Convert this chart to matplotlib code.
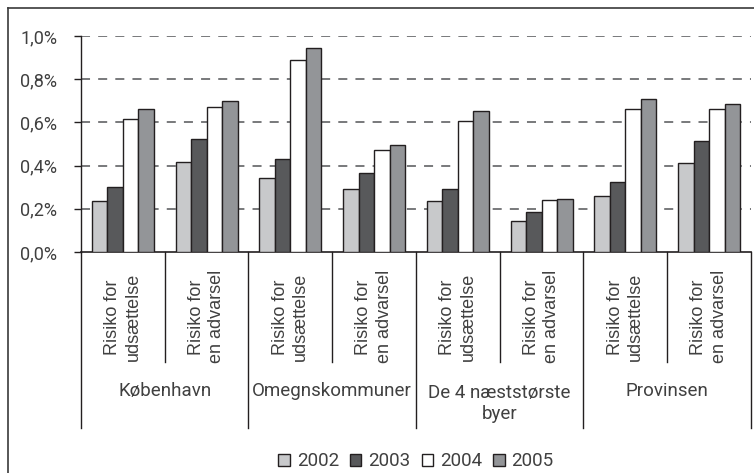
from matplotlib import pyplot as plt
from matplotlib.ticker import FuncFormatter
import numpy as np

plt.rcParams.update({'font.size': 13})
plt.rcParams['font.family'] = ['Roboto', 'DejaVu Sans']

# data
groups = ['København', 'Omegnskommuner', 'De 4 næststørste\nbyer', 'Provinsen']
subcats = ['Risiko for\nudsættelse', 'Risiko for\nen advarsel'] * 4
years = ['2002', '2003', '2004', '2005']
v2002 = [0.236, 0.418, 0.344, 0.293, 0.236, 0.145, 0.258, 0.413]
v2003 = [0.299, 0.522, 0.431, 0.367, 0.293, 0.185, 0.323, 0.515]
v2004 = [0.616, 0.671, 0.887, 0.471, 0.608, 0.242, 0.661, 0.661]
v2005 = [0.661, 0.701, 0.946, 0.494, 0.654, 0.247, 0.707, 0.687]
series = [v2002, v2003, v2004, v2005]
colors = ['#c8c9cb', '#58595b', '#ffffff', '#939598']

ink = '#231f20'
txt = '#404040'

fig = plt.figure(figsize=(7.54, 4.73), dpi=100)
ax = fig.add_axes([0.1074, 0.4672, 0.8886, 0.4567])

x = np.arange(len(subcats))
w = 0.185
bars = []
for i, vals in enumerate(series):
    b = ax.bar(x + (i - 1.5) * w, vals, w, color=colors[i], edgecolor=ink,
               linewidth=1.0, label=years[i], zorder=3)
    bars.append(b)

ax.set_xlim(-0.5, len(subcats) - 0.5)
ax.set_ylim(0, 1.0)
ax.set_yticks(np.arange(0, 1.01, 0.2))
ax.yaxis.set_major_formatter(FuncFormatter(lambda v, pos: ('%.1f%%' % v).replace('.', ',')))
ax.tick_params(axis='y', length=5, width=1, color=ink, labelcolor=txt, pad=12)
ax.set_xticks([])
for yv in np.arange(0.2, 1.01, 0.2):
    ax.axhline(yv, color='#6d6e71', lw=1.3, dashes=(5, 4.5), zorder=1)

for s in ['top', 'right']:
    ax.spines[s].set_visible(False)
ax.spines['left'].set_color(ink)
ax.spines['bottom'].set_color(ink)
ax.spines['left'].set_linewidth(1.0)
ax.spines['bottom'].set_linewidth(1.2)

tr = ax.get_xaxis_transform()
# short separators between the two bars of a group, long ones between groups
for k in range(len(subcats) + 1):
    xb = k - 0.5
    y_end = -0.815 if k % 2 == 0 else -0.509
    ax.plot([xb, xb], [0, y_end], color=ink, lw=1.0, transform=tr, clip_on=False)

for k, lab in enumerate(subcats):
    ax.text(k, -0.300, lab, transform=tr, rotation=90, ha='center', va='center',
            multialignment='center', family=['Liberation Sans', 'DejaVu Sans'],
            fontsize=13, color=txt, linespacing=1.25)

for g, lab in enumerate(groups):
    yy = -0.644 if '\n' not in lab else -0.70
    ax.text(2 * g + 0.5, yy, lab, transform=tr, ha='center', va='center',
            fontsize=13.5, color=txt, linespacing=1.2)

fig.legend(handles=bars, labels=years, loc='center', ncol=4,
           bbox_to_anchor=(416 / 754, 1 - 461.5 / 473), frameon=False,
           handlelength=0.6, handleheight=0.6, handletextpad=0.37,
           columnspacing=0.6, fontsize=13.5, labelcolor=txt)

# outer frame round the chart
fig.add_artist(plt.Line2D([8 / 754, 1.0], [1 - 8 / 473, 1 - 8 / 473], color='#3a3a3a', lw=1.2))
fig.add_artist(plt.Line2D([8 / 754, 8 / 754], [0, 1 - 8 / 473], color='#3a3a3a', lw=1.2))

plt.savefig('out.png', dpi=100)
